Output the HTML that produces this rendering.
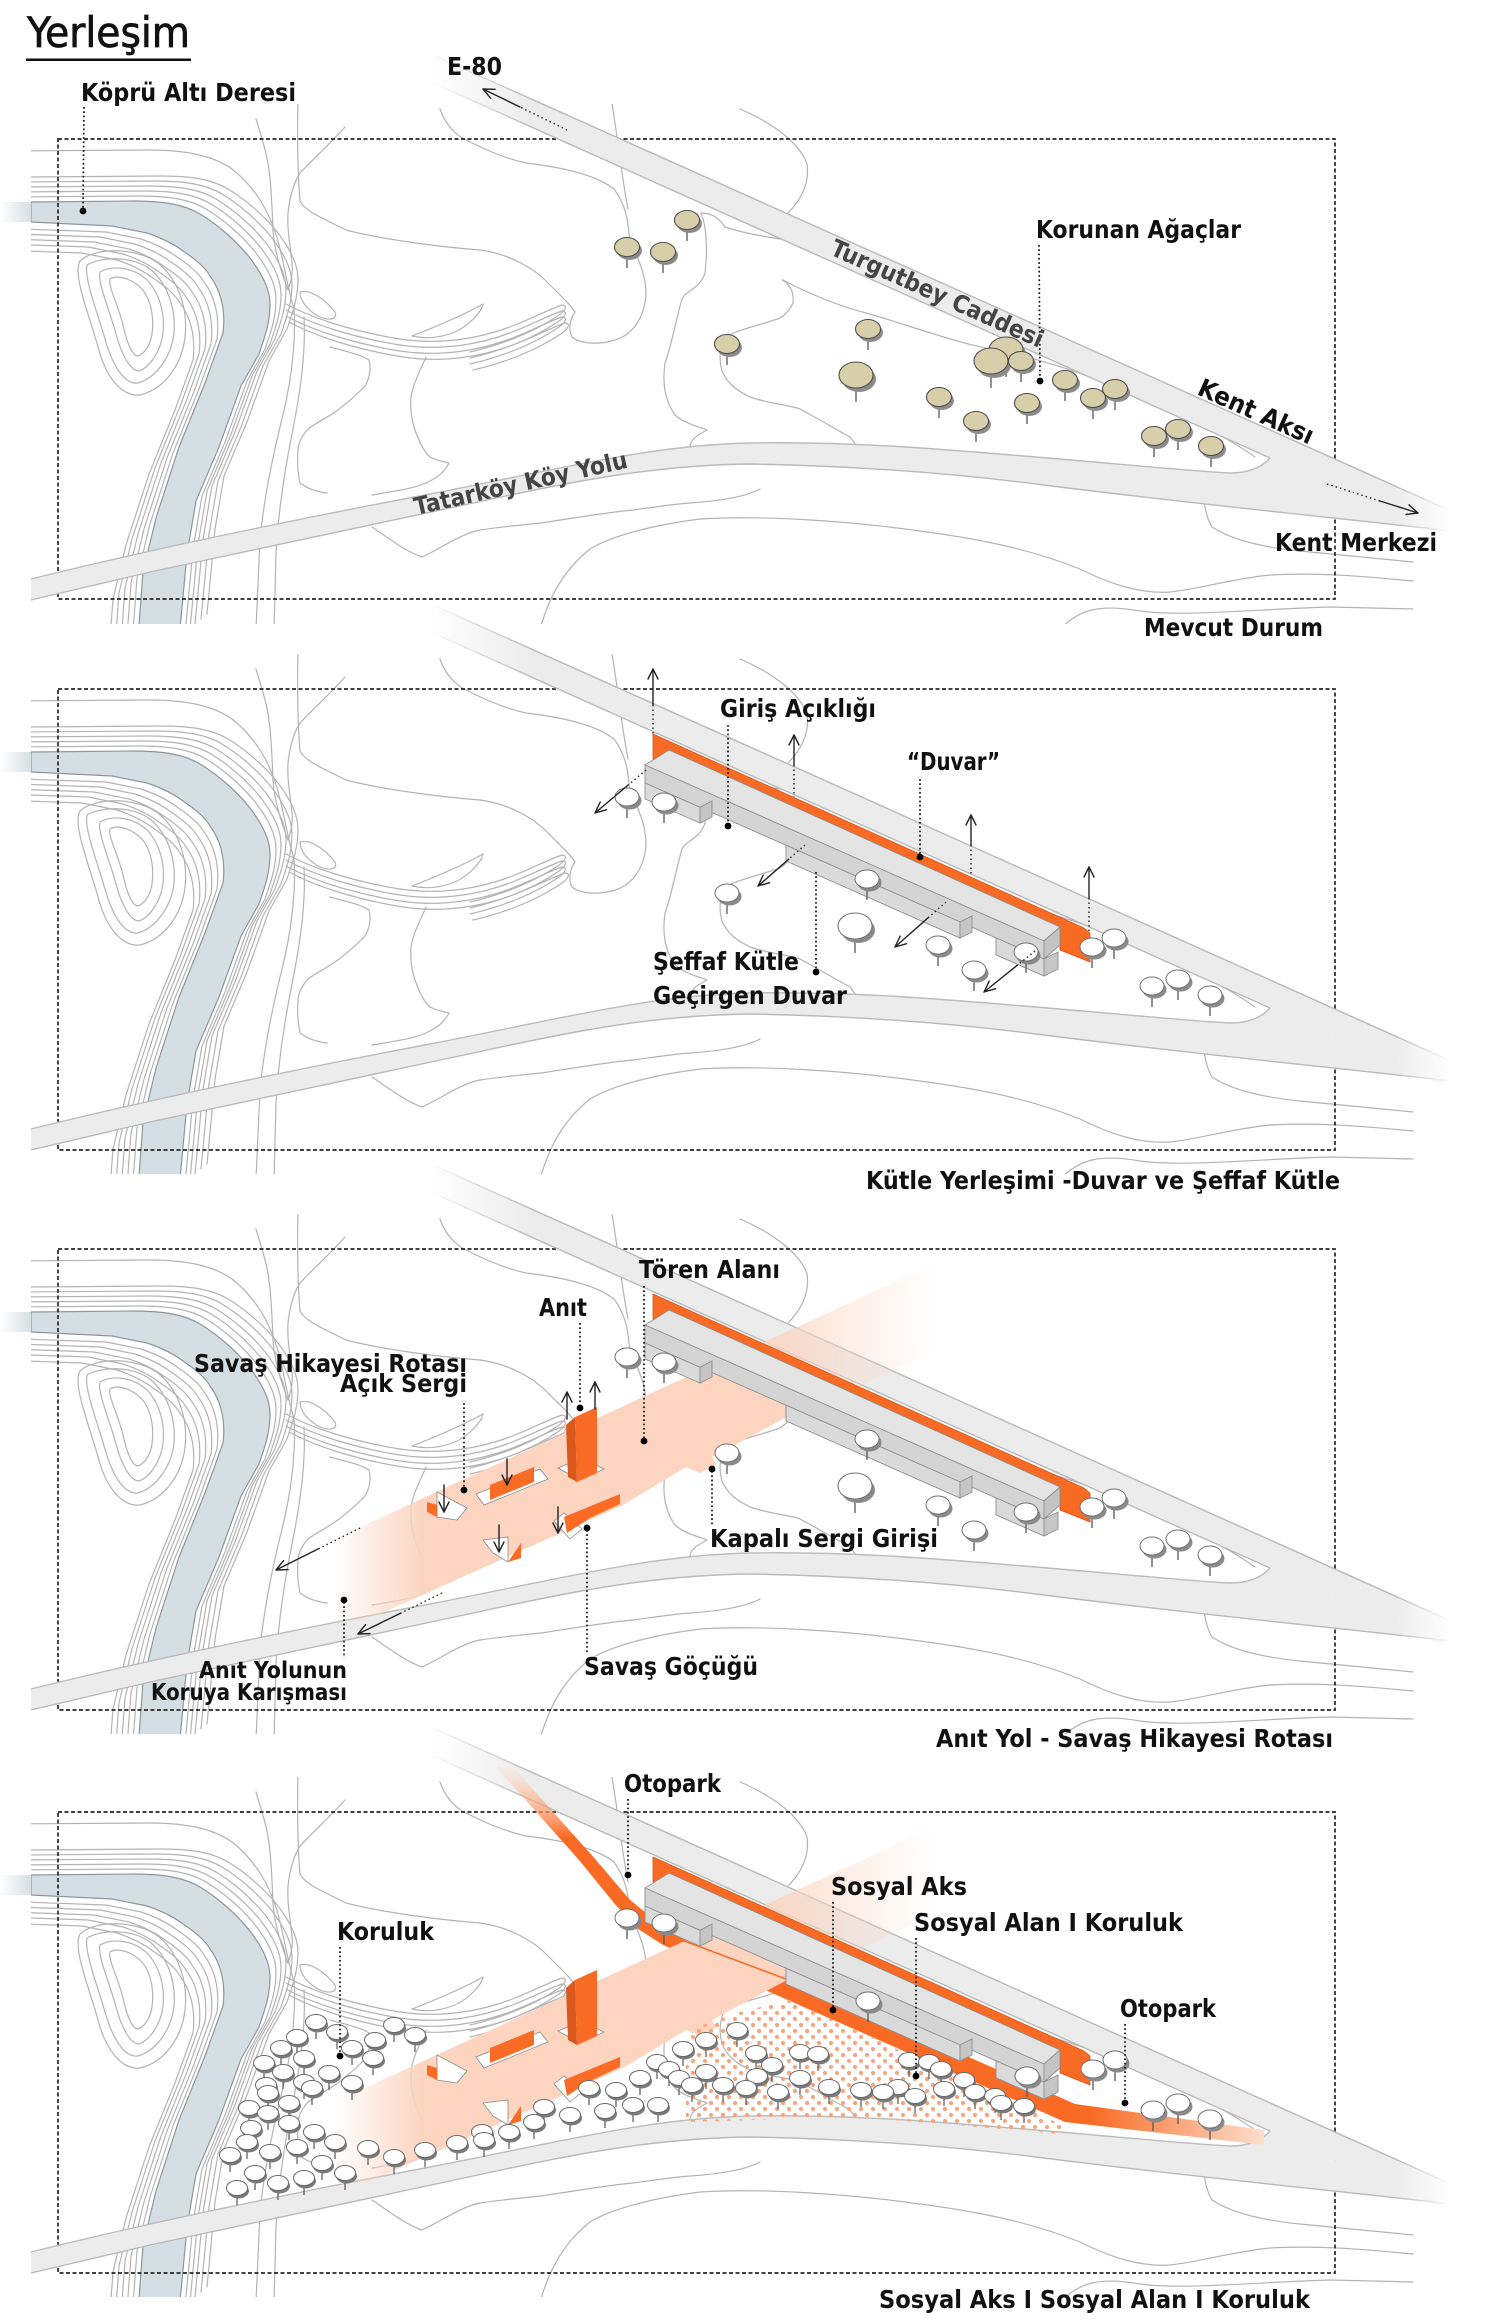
<!DOCTYPE html>
<html><head><meta charset="utf-8"><title>Yerleşim</title>
<style>
html,body{margin:0;padding:0;background:#fff;}
svg{display:block;}
.t{font-family:"Liberation Sans Narrow","DejaVu Sans Condensed","Liberation Sans","Noto Sans CJK JP",sans-serif;font-weight:bold;font-size:25px;fill:#111;}
.rd{fill:#444;font-size:24px;}
.dash{fill:none;stroke:#262626;stroke-width:1.7;stroke-dasharray:4 2.5;}
.ld{fill:none;stroke:#111;stroke-width:1.7;stroke-dasharray:1.7 2.6;}
.ar{fill:none;stroke:#222;stroke-width:1.4;stroke-linecap:round;stroke-linejoin:round;}
.ard{fill:none;stroke:#222;stroke-width:1.4;stroke-dasharray:1.5 3;}
</style></head>
<body>
<svg xmlns="http://www.w3.org/2000/svg" width="1498" height="2323" viewBox="0 0 1498 2323">
<defs>
 <linearGradient id="gTG" gradientUnits="userSpaceOnUse" x1="430" y1="0" x2="1450" y2="0">
  <stop offset="0" stop-color="#ececec" stop-opacity="0"/><stop offset="0.1" stop-color="#ececec"/><stop offset="0.946" stop-color="#ececec"/><stop offset="1" stop-color="#ececec" stop-opacity="0"/>
 </linearGradient>
 <linearGradient id="gTGs" gradientUnits="userSpaceOnUse" x1="430" y1="0" x2="1450" y2="0">
  <stop offset="0" stop-color="#b9b9b9" stop-opacity="0"/><stop offset="0.1" stop-color="#b9b9b9"/><stop offset="0.946" stop-color="#b9b9b9"/><stop offset="1" stop-color="#b9b9b9" stop-opacity="0"/>
 </linearGradient>
 <linearGradient id="gTK" gradientUnits="userSpaceOnUse" x1="31" y1="0" x2="1450" y2="0">
  <stop offset="0" stop-color="#ececec"/><stop offset="0.961" stop-color="#ececec"/><stop offset="1" stop-color="#ececec" stop-opacity="0"/>
 </linearGradient>
 <linearGradient id="gTKs" gradientUnits="userSpaceOnUse" x1="31" y1="0" x2="1450" y2="0">
  <stop offset="0" stop-color="#b9b9b9"/><stop offset="0.961" stop-color="#b9b9b9"/><stop offset="1" stop-color="#b9b9b9" stop-opacity="0"/>
 </linearGradient>
 <linearGradient id="gRiv" gradientUnits="userSpaceOnUse" x1="0" y1="0" x2="32" y2="0">
  <stop offset="0" stop-color="#d5dee2" stop-opacity="0"/><stop offset="1" stop-color="#d5dee2"/>
 </linearGradient>
 <linearGradient id="gPink" gradientUnits="userSpaceOnUse" x1="335" y1="0" x2="425" y2="0">
  <stop offset="0" stop-color="#fcd4bf" stop-opacity="0"/><stop offset="1" stop-color="#fcd4bf"/>
 </linearGradient>
 <linearGradient id="gStreak" gradientUnits="userSpaceOnUse" x1="770" y1="0" x2="935" y2="0">
  <stop offset="0" stop-color="#fcd4bf" stop-opacity="0.85"/><stop offset="0.5" stop-color="#fcd4bf" stop-opacity="0.35"/><stop offset="1" stop-color="#fcd4bf" stop-opacity="0"/>
 </linearGradient>
 <linearGradient id="gOrH" gradientUnits="userSpaceOnUse" x1="1090" y1="0" x2="1270" y2="0">
  <stop offset="0" stop-color="#f96a24"/><stop offset="1" stop-color="#fde3d3"/>
 </linearGradient>
 <linearGradient id="gOrV" gradientUnits="userSpaceOnUse" x1="0" y1="-45" x2="0" y2="25">
  <stop offset="0" stop-color="#fde3d3" stop-opacity="0.3"/><stop offset="1" stop-color="#f96a24"/>
 </linearGradient>
 <pattern id="dots" width="12" height="12" patternUnits="userSpaceOnUse">
  <circle cx="3" cy="3" r="2.1" fill="#f6a57c"/><circle cx="9" cy="9" r="2.1" fill="#f6a57c"/>
 </pattern>
 <clipPath id="cMap"><rect x="31" y="-35" width="1390" height="520"/></clipPath>

 <path id="NB" d="M0,63 L134,62 C165,62 185,66 200,75 C215,84 235,100 250,119 C262,135 270,150 270,165 C270,185 264,200 259,215 L241,247 L219,308 L196,362 L187,415 L183,458 L179,500"/>
 <path id="SB" d="M0,83 L112,87 L147,94 C165,100 175,106 183,112 C195,120 205,128 210,137 C220,150 226,170 223,194 L205,244 L179,308 L156,379 L143,433 L138,500"/>
 <path id="TNG" d="M286,165 C310,178 350,192 400,200 C440,206 480,200 515,186 C535,178 550,170 562,166 C568,166 566,172 556,178 C535,192 505,205 470,213"/>

 <g id="base" clip-path="url(#cMap)">
  <path d="M31,63 L134,62 C165,62 185,66 200,75 C215,84 235,100 250,119 C262,135 270,150 270,165 C270,185 264,200 259,215 L241,247 L219,308 L196,362 L187,415 L183,458 L179,500 L138,500 L143,433 L156,379 L179,308 L205,244 L223,194 C226,170 220,150 210,137 C205,128 195,120 183,112 C175,106 165,100 147,94 L112,87 L31,83 Z" fill="#d5dee2" stroke="#8c979c" stroke-width="1.2"/>
  <g fill="none" stroke="#b3b3b3" stroke-width="1.2" stroke-linejoin="round" stroke-linecap="round">
   <use href="#NB" transform="translate(6,-5)"/>
   <use href="#NB" transform="translate(11,-10)"/>
   <use href="#NB" transform="translate(16,-15)"/>
   <use href="#NB" transform="translate(22,-20)"/>
   <use href="#NB" transform="translate(28,-25)"/>
   <path d="M0,12 L150,11 C190,11 215,18 232,30 C255,48 272,75 280,110 C285,130 288,150 294,170 C296,200 292,240 282,280 C272,320 264,360 260,400 L256,490"/>
   <path d="M304,178 C306,215 300,255 292,295 C284,335 278,375 276,415 L274,490"/>
   <use href="#SB" transform="translate(-6,6)"/>
   <use href="#SB" transform="translate(-12,11)"/>
   <use href="#SB" transform="translate(-18,16)"/>
   <use href="#SB" transform="translate(-24,21)"/>
   <use href="#SB" transform="translate(-30,27)"/>
   <path d="M80,122 C95,108 135,108 158,124 C180,142 188,172 185,198 C182,225 165,250 140,256 C120,258 105,235 98,208 C90,178 72,135 80,122 Z"/>
   <path d="M87,126 C100,118 130,116 150,130 C168,145 176,170 174,194 C172,215 158,238 138,244 C124,246 112,225 105,200 C98,175 84,140 87,126 Z"/>
   <path d="M100,133 C112,126 132,128 146,140 C160,154 165,175 163,194 C161,212 150,228 139,232 C130,232 121,214 116,195 C110,172 97,143 100,133 Z"/>
   <path d="M110,140 C118,135 132,140 142,150 C152,162 154,180 152,195 C150,208 143,216 137,217 C131,215 126,200 123,186 C119,168 108,148 110,140 Z"/>
   <path d="M288,151 C280,130 274,110 273,91 C272,65 271,45 269,31 C267,15 262,0 256,-20"/>
   <path d="M288,151 C292,140 293,130 292,124 C290,105 287,90 288,74 C290,55 295,42 300,34 C315,18 330,5 345,-12"/>
   <use href="#TNG"/>
   <use href="#TNG" transform="translate(0,6)"/>
   <use href="#TNG" transform="translate(0,12)"/>
   <use href="#TNG" transform="translate(3,18)"/>
   <path d="M300,153 C310,150 325,160 335,173 C338,180 330,182 320,178 C308,172 300,162 300,153 Z"/>
   <path d="M412,197 C430,190 460,178 483,165 C482,172 470,186 455,193 C440,199 425,200 412,197 Z"/>
   <path d="M298,-40 C297,0 298,40 300,62 C305,72 320,78 346,91 C380,100 440,108 480,111 C510,115 535,130 548,144 C560,156 570,165 575,173 C570,180 568,190 572,198 C580,205 600,206 615,201 C635,195 645,175 646,155 C646,130 632,110 629,95 C628,80 625,65 614,50 C595,35 560,28 526,24 C500,18 480,8 464,0 C455,-5 445,-15 440,-30"/>
   <path d="M612,-35 C618,0 622,40 628,70"/>
   <path d="M740,-30 C775,-15 800,5 807,25 C810,45 800,62 788,74"/>
   <path d="M701,74 C712,74 720,80 725,88 C740,93 760,97 780,100"/>
   <path d="M701,74 C706,85 708,110 705,134 C700,150 685,152 682,160 C676,180 672,205 665,224 C662,245 665,262 675,276 C685,285 700,288 707,291 C698,296 690,300 690,308"/>
   <path d="M782,141 C790,145 794,152 793,164 C788,175 780,180 774,181 C760,186 740,190 725,198 C718,210 720,225 722,232 C728,245 736,251 750,258 C770,265 790,266 800,270 C815,278 832,288 850,298 L856,306"/>
   <path d="M783,141 C800,150 830,165 870,175 C920,190 960,205 1000,212 C1050,222 1100,240 1150,262 C1190,280 1230,300 1255,318"/>
   <path d="M330,208 C345,212 362,216 369,221 C372,232 368,242 365,247 C355,258 345,265 338,271 C325,280 312,286 307,291 C300,300 298,306 298,311 C297,325 298,335 300,344 C308,350 318,353 327,354"/>
   <path d="M426,218 C420,232 413,245 411,258 C410,272 412,282 415,291 C420,305 425,314 430,318 C438,322 445,323 449,324 C445,332 438,338 430,342 C415,350 395,352 372,356"/>
   <path d="M540,490 C550,455 565,430 590,410 C615,395 660,385 700,380 C760,376 850,382 920,392 C980,400 1030,410 1080,430 C1110,445 1140,455 1170,453 C1200,450 1230,440 1270,436 C1320,433 1370,438 1413,442"/>
   <path d="M1203,355 C1205,370 1207,380 1212,388 C1230,400 1260,408 1300,412 C1340,416 1380,420 1413,423"/>
   <path d="M372,388 C390,400 405,412 422,418 C440,410 460,395 480,391 C500,388 520,386 541,384 C580,378 610,373 633,371 C655,368 675,365 690,364 C720,362 745,358 760,350"/>
   <path d="M1060,490 C1080,470 1100,465 1140,472 C1180,478 1260,470 1330,468 L1413,470"/>
  </g>
 </g>

 <g id="roads">
  <path d="M430,-85.4 L1450,371.6 L1450,399.6 L430,-57.4 Z" fill="url(#gTG)"/>
  <path d="M31,440 C120,418 250,389 430,355 C560,330 650,306 750,304 C860,302 960,312 1036,318 C1120,325 1190,332 1230,334 C1250,334 1262,328 1270,319 L1420,386 L1450,392 C1350,380 1200,366 1036,345 C950,334 860,327 750,325 C650,326 560,345 478,363 C400,380 300,402 150,433 L31,461 Z" fill="url(#gTK)"/>
  <g fill="none" stroke-width="1.4">
   <path d="M430,-85.4 L1450,371.6" stroke="url(#gTGs)"/>
   <path d="M430,-57.4 L1270,319" stroke="url(#gTGs)"/>
   <path d="M31,440 C120,418 250,389 430,355 C560,330 650,306 750,304 C860,302 960,312 1036,318 C1120,325 1190,332 1230,334 C1250,334 1262,328 1270,319" stroke="#bcbcbc"/>
   <path d="M31,461 L150,433 C300,402 400,380 478,363 C560,345 650,326 750,325 C860,327 950,334 1036,345 C1200,366 1350,380 1450,392" stroke="url(#gTKs)"/>
  </g>
 </g>

 <g id="bld">
  <polygon points="653,45 1084,239 1090,244 1090,273 1060,261 1060,238 669,61 656,73 653,70" fill="#f96a24" stroke="#d4561b" stroke-width="0.8"/>
  <polygon points="669,61 1060,238 1044,252 645,76" fill="#e4e4e4" stroke="#8f8f8f" stroke-width="0.9"/>
  <polygon points="645,76 1044,252 1044,270 645,94" fill="#d4d4d4" stroke="#8f8f8f" stroke-width="0.9"/>
  <polygon points="1044,252 1060,238 1060,256 1044,270" fill="#c4c4c4" stroke="#8f8f8f" stroke-width="0.9"/>
  <polygon points="645,94 700,118.3 700,134 645,110" fill="#dadada" stroke="#8f8f8f" stroke-width="0.9"/>
  <polygon points="700,118.3 712,112 712,128 700,134" fill="#c6c6c6" stroke="#8f8f8f" stroke-width="0.9"/>
  <polygon points="786,156.2 960,232.9 960,249 786,172" fill="#dadada" stroke="#8f8f8f" stroke-width="0.9"/>
  <polygon points="960,232.9 972,227 972,243 960,249" fill="#c6c6c6" stroke="#8f8f8f" stroke-width="0.9"/>
  <polygon points="996,248.8 1044,270 1044,287 996,265.8" fill="#dadada" stroke="#8f8f8f" stroke-width="0.9"/>
  <polygon points="1044,270 1058,263 1058,280 1044,287" fill="#c6c6c6" stroke="#8f8f8f" stroke-width="0.9"/>
 </g>

 <g id="streak"><polygon points="760,95 950,8 950,95 800,165" fill="url(#gStreak)"/></g>
 <g id="pink"><path d="M330,292 L717,114 L760,96 L800,118 L789,143 L789,167 L712,208 L716,216 L700,224 L686,218 L623,256 L380,365 L330,380 Z" fill="url(#gPink)"/></g>

 <g id="slabs">
  <g fill="#fff" stroke="#8a8a8a" stroke-width="0.8">
   <polygon points="558,219 582,209 604,220 580,231"/>
   <polygon points="437,243 467,259 457,271 437,268"/>
   <polygon points="476,245 540,220 548,230 484,256"/>
   <polygon points="554,272 564,264 582,280 570,290"/>
   <polygon points="483,291 508,288 508,313 493,304"/>
  </g>
  <polygon points="566,176 575,168 577,233 568,228" fill="#d9581b"/>
  <polygon points="575,168 597,158 597,224 577,233" fill="#fa6b25"/>
  <polygon points="427,253 437,256 437,268 427,263" fill="#fa6b25"/>
  <polygon points="490,236 534,218 534,233 490,251" fill="#fa6b25"/>
  <polygon points="564,268 620,245 620,255 590,269 567,284" fill="#fa6b25"/>
  <polygon points="508,313 521,294 521,309" fill="#fa6b25"/>
 </g>

 <g id="tb"><line x1="0" y1="0" x2="0" y2="21" stroke="#555" stroke-width="1.3"/><ellipse cx="2.5" cy="3.5" rx="12.5" ry="9.5" fill="#8c8c8c"/><ellipse rx="12.5" ry="9.5" fill="#d7cfaa" stroke="#4d4d4d" stroke-width="1.1"/></g>
 <g id="tbb"><line x1="0" y1="0" x2="0" y2="27" stroke="#555" stroke-width="1.3"/><ellipse cx="3" cy="4" rx="17" ry="13" fill="#8c8c8c"/><ellipse rx="17" ry="13" fill="#d7cfaa" stroke="#4d4d4d" stroke-width="1.1"/></g>
 <g id="tw"><line x1="0" y1="0" x2="0" y2="21" stroke="#555" stroke-width="1.3"/><ellipse cx="2.5" cy="3.5" rx="12" ry="9" fill="#8a8a8a"/><ellipse rx="12" ry="9" fill="#fff" stroke="#707070" stroke-width="1"/></g>
 <g id="twb"><line x1="0" y1="0" x2="0" y2="27" stroke="#555" stroke-width="1.3"/><ellipse cx="3" cy="4" rx="17" ry="13" fill="#8a8a8a"/><ellipse rx="17" ry="13" fill="#fff" stroke="#707070" stroke-width="1"/></g>
 <g id="tf"><line x1="0" y1="0" x2="0" y2="17" stroke="#555" stroke-width="1.2"/><ellipse cx="1.5" cy="3" rx="10.5" ry="7.5" fill="#7a7a7a"/><ellipse rx="10.5" ry="7.5" fill="#fff" stroke="#6a6a6a" stroke-width="1"/></g>

 <g id="wtrees">
  <use href="#tw" x="627" y="108"/><use href="#tw" x="664" y="113"/><use href="#tw" x="867" y="190"/><use href="#tw" x="727" y="204"/>
  <use href="#twb" x="855" y="237"/><use href="#tw" x="1114" y="249"/><use href="#tw" x="938" y="256"/><use href="#tw" x="1092" y="258"/>
  <use href="#tw" x="1026" y="263"/><use href="#tw" x="974" y="281"/><use href="#tw" x="1178" y="290"/><use href="#tw" x="1152" y="297"/><use href="#tw" x="1210" y="306"/>
 </g>
</defs>

<rect width="1498" height="2323" fill="#fff"/>

<!-- ================= PANEL 1 ================= -->
<rect x="0" y="202" width="32" height="20" fill="url(#gRiv)"/>
<g transform="translate(0,139)">
 <use href="#base"/>
 <rect class="dash" x="58" y="0" width="1277" height="460"/>
 <use href="#roads"/>
 <use href="#tb" x="687" y="81"/><use href="#tb" x="627" y="108"/><use href="#tb" x="663" y="113"/><use href="#tb" x="868" y="190"/>
 <use href="#tb" x="727" y="205"/><use href="#tbb" x="1006" y="211"/><use href="#tbb" x="991" y="222"/><use href="#tb" x="1021" y="222"/>
 <use href="#tbb" x="856" y="236"/><use href="#tb" x="1065" y="241"/><use href="#tb" x="1115" y="250"/><use href="#tb" x="939" y="258"/>
 <use href="#tb" x="1093" y="259"/><use href="#tb" x="1027" y="264"/><use href="#tb" x="976" y="282"/><use href="#tb" x="1178" y="290"/>
 <use href="#tb" x="1154" y="297"/><use href="#tb" x="1211" y="307"/>
</g>
<!-- title -->
<text x="27" y="47" class="t" style="font-weight:normal;font-size:42px;stroke:#111;stroke-width:0.7" textLength="163" lengthAdjust="spacingAndGlyphs">Yerleşim</text>
<rect x="26" y="58.5" width="165" height="2.5" fill="#111"/>
<!-- E-80 -->
<text x="447" y="75" class="t" textLength="55" lengthAdjust="spacingAndGlyphs">E-80</text>
<line class="ard" x1="567" y1="130" x2="520" y2="107"/>
<line class="ar" x1="520" y1="107" x2="483" y2="89"/>
<polyline class="ar" points="495.1,89.3 483,89 490.7,98.3"/>
<!-- Köprü Altı -->
<text x="81" y="101" class="t" textLength="215" lengthAdjust="spacingAndGlyphs">Köprü Altı Deresi</text>
<line class="ld" x1="84" y1="107" x2="83" y2="209"/>
<circle cx="83" cy="211" r="3.4" fill="#000"/>
<!-- Korunan -->
<text x="1036" y="238" class="t" textLength="205" lengthAdjust="spacingAndGlyphs">Korunan Ağaçlar</text>
<line class="ld" x1="1039" y1="245" x2="1040" y2="379"/>
<circle cx="1040" cy="381" r="3.4" fill="#000"/>
<!-- road names -->
<text class="t rd" transform="translate(829,254) rotate(24.1)" textLength="230" lengthAdjust="spacingAndGlyphs">Turgutbey Caddesi</text>
<text class="t" transform="translate(1196,394) rotate(24.1)" textLength="124" lengthAdjust="spacingAndGlyphs">Kent Aksı</text>
<text class="t rd" transform="translate(416,515) rotate(-12.6)" textLength="218" lengthAdjust="spacingAndGlyphs">Tatarköy Köy Yolu</text>
<!-- Kent Merkezi -->
<line class="ard" x1="1327" y1="484" x2="1380" y2="501"/>
<line class="ar" x1="1380" y1="501" x2="1418" y2="513"/>
<polyline class="ar" points="1406,514.4 1418,513 1409,504.9"/>
<text x="1275" y="551" class="t" textLength="162" lengthAdjust="spacingAndGlyphs">Kent Merkezi</text>
<text x="1144" y="636" class="t" textLength="179" lengthAdjust="spacingAndGlyphs">Mevcut Durum</text>

<!-- ================= PANEL 2 ================= -->
<rect x="0" y="752" width="32" height="20" fill="url(#gRiv)"/>
<g transform="translate(0,689)">
 <use href="#base"/>
 <rect class="dash" x="58" y="0" width="1277" height="461"/>
 <use href="#roads"/>
 <use href="#bld"/>
 <use href="#wtrees"/>
</g>
<!-- arrows P2 -->
<line class="ar" x1="653" y1="669" x2="653" y2="705"/><line class="ard" x1="653" y1="705" x2="653" y2="734"/>
<polyline class="ar" points="648,679 653,669 658,679"/>
<line class="ar" x1="794" y1="735" x2="794" y2="765"/><line class="ard" x1="794" y1="765" x2="794" y2="797"/>
<polyline class="ar" points="789,745 794,735 799,745"/>
<line class="ar" x1="971" y1="815" x2="971" y2="845"/><line class="ard" x1="971" y1="845" x2="971" y2="876"/>
<polyline class="ar" points="966,825 971,815 976,825"/>
<line class="ar" x1="1089" y1="867" x2="1089" y2="898"/><line class="ard" x1="1089" y1="898" x2="1089" y2="931"/>
<polyline class="ar" points="1084,877 1089,867 1094,877"/>
<line class="ard" x1="646" y1="770" x2="628.2" y2="785"/><line class="ar" x1="628.2" y1="785" x2="595" y2="813"/>
<polyline class="ar" points="606.6,809.7 595,813 600.2,802.1"/>
<line class="ard" x1="805" y1="845" x2="788.6" y2="859.3"/><line class="ar" x1="788.6" y1="859.3" x2="758" y2="886"/>
<polyline class="ar" points="769.6,882.7 758,886 763.2,875.1"/>
<line class="ard" x1="946" y1="902" x2="928.2" y2="917.7"/><line class="ar" x1="928.2" y1="917.7" x2="895" y2="947"/>
<polyline class="ar" points="906.6,943.7 895,947 900.2,936.1"/>
<line class="ard" x1="1035" y1="951" x2="1017.2" y2="965.3"/><line class="ar" x1="1017.2" y1="965.3" x2="984" y2="992"/>
<polyline class="ar" points="995.6,988.7 984,992 989.2,981.1"/>
<!-- labels P2 -->
<text x="720" y="717" class="t" textLength="156" lengthAdjust="spacingAndGlyphs">Giriş Açıklığı</text>
<line class="ld" x1="728" y1="725" x2="728" y2="824"/><circle cx="728" cy="826" r="3.4" fill="#000"/>
<text x="907" y="770" class="t" textLength="93" lengthAdjust="spacingAndGlyphs">“Duvar”</text>
<line class="ld" x1="920" y1="779" x2="920" y2="855"/><circle cx="920" cy="857" r="3.4" fill="#000"/>
<text x="653" y="970" class="t" textLength="146" lengthAdjust="spacingAndGlyphs">Şeffaf Kütle</text>
<text x="653" y="1004" class="t" textLength="194" lengthAdjust="spacingAndGlyphs">Geçirgen Duvar</text>
<line class="ld" x1="816" y1="872" x2="816" y2="970"/><circle cx="816" cy="972" r="3.4" fill="#000"/>
<text x="866" y="1189" class="t" textLength="474" lengthAdjust="spacingAndGlyphs">Kütle Yerleşimi -Duvar ve Şeffaf Kütle</text>

<!-- ================= PANEL 3 ================= -->
<rect x="0" y="1312" width="32" height="20" fill="url(#gRiv)"/>
<g transform="translate(0,1249)">
 <use href="#base"/>
 <rect class="dash" x="58" y="0" width="1277" height="461"/>
 <use href="#roads"/>
 <use href="#streak"/>
 <use href="#pink"/>
 <use href="#bld"/>
 <use href="#slabs"/>
 <use href="#wtrees"/>
</g>
<!-- arrows P3 -->
<line class="ar" x1="567" y1="1392" x2="567" y2="1419"/><polyline class="ar" points="562,1402 567,1392 572,1402"/>
<line class="ar" x1="595" y1="1382" x2="595" y2="1409"/><polyline class="ar" points="590,1392 595,1382 600,1392"/>
<line class="ar" x1="444" y1="1485" x2="444" y2="1512"/><polyline class="ar" points="439,1502 444,1512 449,1502"/>
<line class="ar" x1="507" y1="1459" x2="507" y2="1485"/><polyline class="ar" points="502,1475 507,1485 512,1475"/>
<line class="ar" x1="499" y1="1525" x2="499" y2="1552"/><polyline class="ar" points="494,1542 499,1552 504,1542"/>
<line class="ar" x1="558" y1="1507" x2="558" y2="1533"/><polyline class="ar" points="553,1523 558,1533 563,1523"/>
<line class="ard" x1="360" y1="1528" x2="318" y2="1549"/><line class="ar" x1="318" y1="1549" x2="276" y2="1570"/>
<polyline class="ar" points="288.1,1569.6 276,1570 283.6,1560.6"/>
<line class="ard" x1="442" y1="1593" x2="400" y2="1613.5"/><line class="ar" x1="400" y1="1613.5" x2="358" y2="1634"/>
<polyline class="ar" points="370,1633.6 358,1634 365.6,1624.6"/>
<!-- labels P3 -->
<text x="639" y="1278" class="t" textLength="141" lengthAdjust="spacingAndGlyphs">Tören Alanı</text>
<line class="ld" x1="644" y1="1286" x2="644" y2="1439"/><circle cx="644" cy="1441" r="3.4" fill="#000"/>
<text x="539" y="1316" class="t" textLength="48" lengthAdjust="spacingAndGlyphs">Anıt</text>
<line class="ld" x1="580" y1="1323" x2="580" y2="1406"/><circle cx="580" cy="1408" r="3.4" fill="#000"/>
<text x="194" y="1372" class="t" textLength="273" lengthAdjust="spacingAndGlyphs">Savaş Hikayesi Rotası</text>
<text x="340" y="1392" class="t" textLength="127" lengthAdjust="spacingAndGlyphs">Açık Sergi</text>
<line class="ld" x1="464" y1="1403" x2="464" y2="1488"/><circle cx="464" cy="1490" r="3.4" fill="#000"/>
<circle cx="712" cy="1469" r="3.4" fill="#000"/><line class="ld" x1="712" y1="1471" x2="712" y2="1526"/>
<text x="710" y="1547" class="t" textLength="228" lengthAdjust="spacingAndGlyphs">Kapalı Sergi Girişi</text>
<circle cx="587" cy="1528" r="3.4" fill="#000"/><line class="ld" x1="587" y1="1530" x2="587" y2="1654"/>
<text x="584" y="1675" class="t" textLength="174" lengthAdjust="spacingAndGlyphs">Savaş Göçüğü</text>
<circle cx="344" cy="1600" r="3.4" fill="#000"/><line class="ld" x1="344" y1="1602" x2="344" y2="1658"/>
<text x="199" y="1678" class="t" style="font-size:23px" textLength="148" lengthAdjust="spacingAndGlyphs">Anıt Yolunun</text>
<text x="151" y="1700" class="t" style="font-size:23px" textLength="196" lengthAdjust="spacingAndGlyphs">Koruya Karışması</text>
<text x="936" y="1747" class="t" textLength="397" lengthAdjust="spacingAndGlyphs">Anıt Yol - Savaş Hikayesi Rotası</text>

<!-- ================= PANEL 4 ================= -->
<rect x="0" y="1875" width="32" height="20" fill="url(#gRiv)"/>
<g transform="translate(0,1812)">
 <use href="#base"/>
 <rect class="dash" x="58" y="0" width="1277" height="461"/>
 <use href="#roads"/>
 <use href="#streak"/>
 <path d="M496,-45 L513,-45 L555,2 L596,48 L630,88 L650,104 L670,113 L663,133 L635,115 L614,91 L579,48 L538,2 Z" fill="url(#gOrV)"/>
 <path d="M670,113 L1075,292 L1264,318 L1264,333 L1065,310 L663,133 Z" fill="url(#gOrH)"/>
 <use href="#pink"/>
 <line x1="663" y1="121" x2="786" y2="167" stroke="#f96a24" stroke-width="1.5"/>
 <path d="M686,222 L705,212 L740,200 L790,188 L1062,313 L1062,322 L858,305 L686,310 Z" fill="url(#dots)"/>
 <use href="#bld"/>
 <use href="#slabs"/>
 <use href="#tw" x="627" y="106"/><use href="#tw" x="664" y="111"/><use href="#tw" x="868" y="189"/>
 <use href="#tf" x="394" y="213"/><use href="#tf" x="316" y="210"/><use href="#tf" x="737" y="218"/><use href="#tf" x="337" y="220"/>
 <use href="#tf" x="415" y="223"/><use href="#tf" x="297" y="225"/><use href="#tf" x="706" y="228"/><use href="#tf" x="375" y="228"/>
 <use href="#tf" x="683" y="237"/><use href="#tf" x="281" y="236"/><use href="#tf" x="352" y="236"/><use href="#tf" x="756" y="241"/>
 <use href="#tf" x="800" y="240"/><use href="#tf" x="818" y="242"/><use href="#tf" x="304" y="246"/><use href="#tf" x="373" y="246"/>
 <use href="#tf" x="909" y="248"/><use href="#tw" x="1115" y="248"/><use href="#tf" x="929" y="250"/><use href="#tf" x="264" y="251"/>
 <use href="#tf" x="657" y="250"/><use href="#tf" x="772" y="253"/><use href="#tf" x="941" y="257"/><use href="#tw" x="1093" y="257"/>
 <use href="#tf" x="669" y="257"/><use href="#tf" x="283" y="260"/><use href="#tf" x="706" y="260"/><use href="#tf" x="329" y="261"/>
 <use href="#tw" x="1027" y="264"/><use href="#tf" x="757" y="264"/><use href="#tf" x="640" y="266"/><use href="#tf" x="679" y="266"/>
 <use href="#tf" x="800" y="266"/><use href="#tf" x="964" y="268"/><use href="#tf" x="304" y="270"/><use href="#tf" x="352" y="271"/>
 <use href="#tf" x="266" y="273"/><use href="#tf" x="692" y="273"/><use href="#tf" x="723" y="273"/><use href="#tf" x="829" y="275"/>
 <use href="#tf" x="898" y="275"/><use href="#tf" x="312" y="276"/><use href="#tf" x="589" y="276"/><use href="#tf" x="746" y="276"/>
 <use href="#tf" x="944" y="277"/><use href="#tf" x="616" y="278"/><use href="#tf" x="861" y="278"/><use href="#tf" x="778" y="280"/>
 <use href="#tf" x="883" y="280"/><use href="#tf" x="975" y="280"/><use href="#tf" x="268" y="281"/><use href="#tf" x="915" y="284"/>
 <use href="#tf" x="995" y="284"/><use href="#tf" x="1001" y="291"/><use href="#tw" x="1178" y="291"/><use href="#tf" x="289" y="291"/>
 <use href="#tf" x="633" y="293"/><use href="#tf" x="658" y="293"/><use href="#tf" x="1024" y="294"/><use href="#tf" x="544" y="295"/>
 <use href="#tf" x="249" y="296"/><use href="#tw" x="1153" y="298"/><use href="#tf" x="605" y="299"/><use href="#tf" x="268" y="301"/>
 <use href="#tf" x="570" y="303"/><use href="#tw" x="1210" y="307"/><use href="#tf" x="534" y="310"/><use href="#tf" x="289" y="311"/>
 <use href="#tf" x="251" y="316"/><use href="#tf" x="314" y="320"/><use href="#tf" x="482" y="320"/><use href="#tf" x="509" y="320"/>
 <use href="#tf" x="484" y="328"/><use href="#tf" x="335" y="330"/><use href="#tf" x="247" y="330"/><use href="#tf" x="457" y="331"/>
 <use href="#tf" x="297" y="335"/><use href="#tf" x="368" y="336"/><use href="#tf" x="425" y="338"/><use href="#tf" x="270" y="340"/>
 <use href="#tf" x="230" y="343"/><use href="#tf" x="394" y="345"/><use href="#tf" x="322" y="351"/><use href="#tf" x="255" y="361"/>
 <use href="#tf" x="345" y="361"/><use href="#tf" x="304" y="366"/><use href="#tf" x="278" y="371"/><use href="#tf" x="237" y="376"/>
</g>
<!-- labels P4 -->
<text x="624" y="1792" class="t" textLength="97" lengthAdjust="spacingAndGlyphs">Otopark</text>
<line class="ld" x1="628" y1="1799" x2="628" y2="1873"/><circle cx="628" cy="1875" r="3.4" fill="#000"/>
<text x="831" y="1895" class="t" textLength="136" lengthAdjust="spacingAndGlyphs">Sosyal Aks</text>
<line class="ld" x1="833" y1="1902" x2="833" y2="2008"/><circle cx="833" cy="2010" r="3.4" fill="#000"/>
<text x="914" y="1931" class="t" textLength="269" lengthAdjust="spacingAndGlyphs">Sosyal Alan I Koruluk</text>
<line class="ld" x1="916" y1="1938" x2="916" y2="2074"/><circle cx="916" cy="2076" r="3.4" fill="#000"/>
<text x="1120" y="2017" class="t" textLength="96" lengthAdjust="spacingAndGlyphs">Otopark</text>
<line class="ld" x1="1125" y1="2024" x2="1125" y2="2101"/><circle cx="1125" cy="2103" r="3.4" fill="#000"/>
<text x="337" y="1940" class="t" textLength="97" lengthAdjust="spacingAndGlyphs">Koruluk</text>
<line class="ld" x1="340" y1="1947" x2="340" y2="2054"/><circle cx="340" cy="2056" r="3.4" fill="#000"/>
<text x="879" y="2308" class="t" textLength="431" lengthAdjust="spacingAndGlyphs">Sosyal Aks I Sosyal Alan I Koruluk</text>
</svg>
</body></html>
